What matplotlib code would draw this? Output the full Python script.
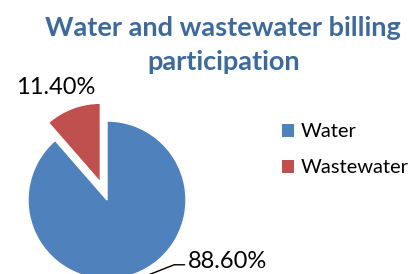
import matplotlib.pyplot as plt
from matplotlib.patches import Patch

# Billing participation data
categories = ['Water', 'Wastewater']
shares = [88.6, 11.4]
pct_labels = ['88.60%', '11.40%']
colors = ['#4F81BD', '#C0504D']

plt.rcParams['font.family'] = ['Lato', 'DejaVu Sans']

fig = plt.figure(figsize=(4.15, 2.74), dpi=100)

# axes over the whole figure, pie radius 1 -> 79 px, centre at (107, 200) px from top-left
R = 79.0
ax = fig.add_axes([0, 0, 1, 1])

wedges, _ = ax.pie(shares, colors=colors, startangle=90, counterclock=False,
                   explode=[0, 0.24], radius=1,
                   wedgeprops=dict(edgecolor='white', linewidth=1))

ax.set_xlim(-107 / R, (415 - 107) / R)
ax.set_ylim(-74 / R, (274 - 74) / R)
ax.set_aspect('equal')
ax.axis('off')

# data labels
ax.text(-0.65, 1.42, pct_labels[1], fontsize=17, ha='center', va='center', color='black')
ax.text(1.02, -0.78, pct_labels[0], fontsize=17, ha='left', va='center', color='black')
ax.plot([0.98, 0.85, 0.52], [-0.82, -0.82, -0.95], color='black', linewidth=1, clip_on=False)

fig.text(0.538, 0.835, 'Water and wastewater billing\nparticipation', ha='center', va='center',
         fontsize=19.5, fontweight='bold', color='#3C6A9D', linespacing=1.5)

handles = [Patch(facecolor=c, edgecolor='none') for c in colors]
leg = fig.legend(handles, categories, loc='upper left', bbox_to_anchor=(0.68, 0.55),
                 frameon=False, fontsize=14.5, handlelength=0.6, handleheight=0.6,
                 handletextpad=0.3, labelspacing=0.95, borderpad=0, borderaxespad=0)

fig.savefig('out.png', dpi=100)
